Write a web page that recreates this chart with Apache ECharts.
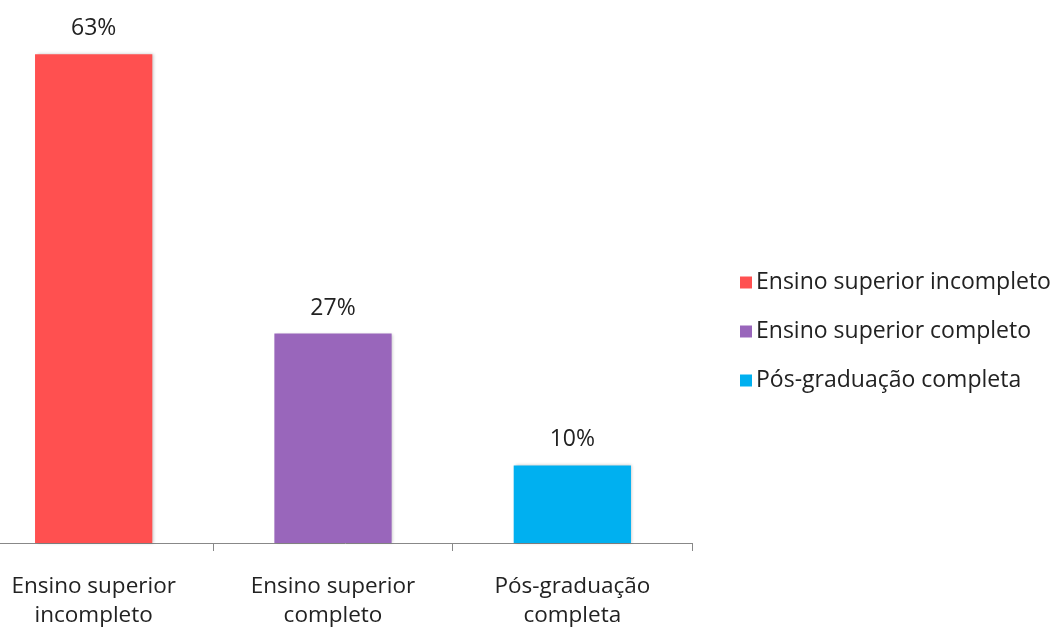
<!DOCTYPE html>
<html>
<head>
<meta charset="utf-8">
<script src="https://cdn.jsdelivr.net/npm/echarts@6/dist/echarts.min.js"></script>
<style>
  html, body { margin: 0; padding: 0; background: #fff; }
  #chart { width: 1056px; height: 627px; }
</style>
</head>
<body>
<div id="chart"></div>
<script>
// Escolaridade dos respondentes (%)
const categories = ['Ensino superior\nincompleto', 'Ensino superior\ncompleto', 'Pós-graduação\ncompleta'];
const seriesNames = ['Ensino superior incompleto', 'Ensino superior completo', 'Pós-graduação completa'];
const values = [63, 27, 10];
const colors = ['#FF5050', '#9966BB', '#00B0F0'];

const FONT = '"Open Sans", sans-serif';

const series = seriesNames.map((name, i) => ({
  name,
  type: 'bar',
  stack: 'total',
  barWidth: '49%',
  itemStyle: {
    color: colors[i],
    shadowColor: 'rgba(0,0,0,0.22)',
    shadowBlur: 3,
    shadowOffsetX: 1.5,
    shadowOffsetY: 0
  },
  label: {
    show: true,
    position: 'top',
    distance: 14,
    formatter: p => p.value + '%',
    fontFamily: FONT,
    fontSize: 23,
    color: '#222'
  },
  data: categories.map((c, j) => (j === i ? values[i] : '-'))
}));

const chart = echarts.init(document.getElementById('chart'));
chart.setOption({
  animation: false,
  grid: { left: -26, right: 364, top: 0, bottom: 84, outerBoundsMode: 'none', containLabel: false },
  legend: {
    orient: 'vertical',
    left: 735,
    top: 266,
    itemWidth: 12,
    itemHeight: 12,
    itemGap: 26,
    icon: 'rect',
    textStyle: { fontFamily: FONT, fontSize: 23, color: '#222', padding: [0, 0, 0, -1] },
    data: seriesNames
  },
  xAxis: {
    type: 'category',
    data: categories,
    axisLine: { lineStyle: { color: '#888', width: 1 } },
    axisTick: { show: true, length: 8, inside: false, lineStyle: { color: '#888' } },
    axisLabel: { fontFamily: FONT, fontSize: 22.5, color: '#222', lineHeight: 29, margin: 29 }
  },
  yAxis: {
    type: 'value',
    min: 0,
    max: 70,
    show: false
  },
  series
});
</script>
</body>
</html>
